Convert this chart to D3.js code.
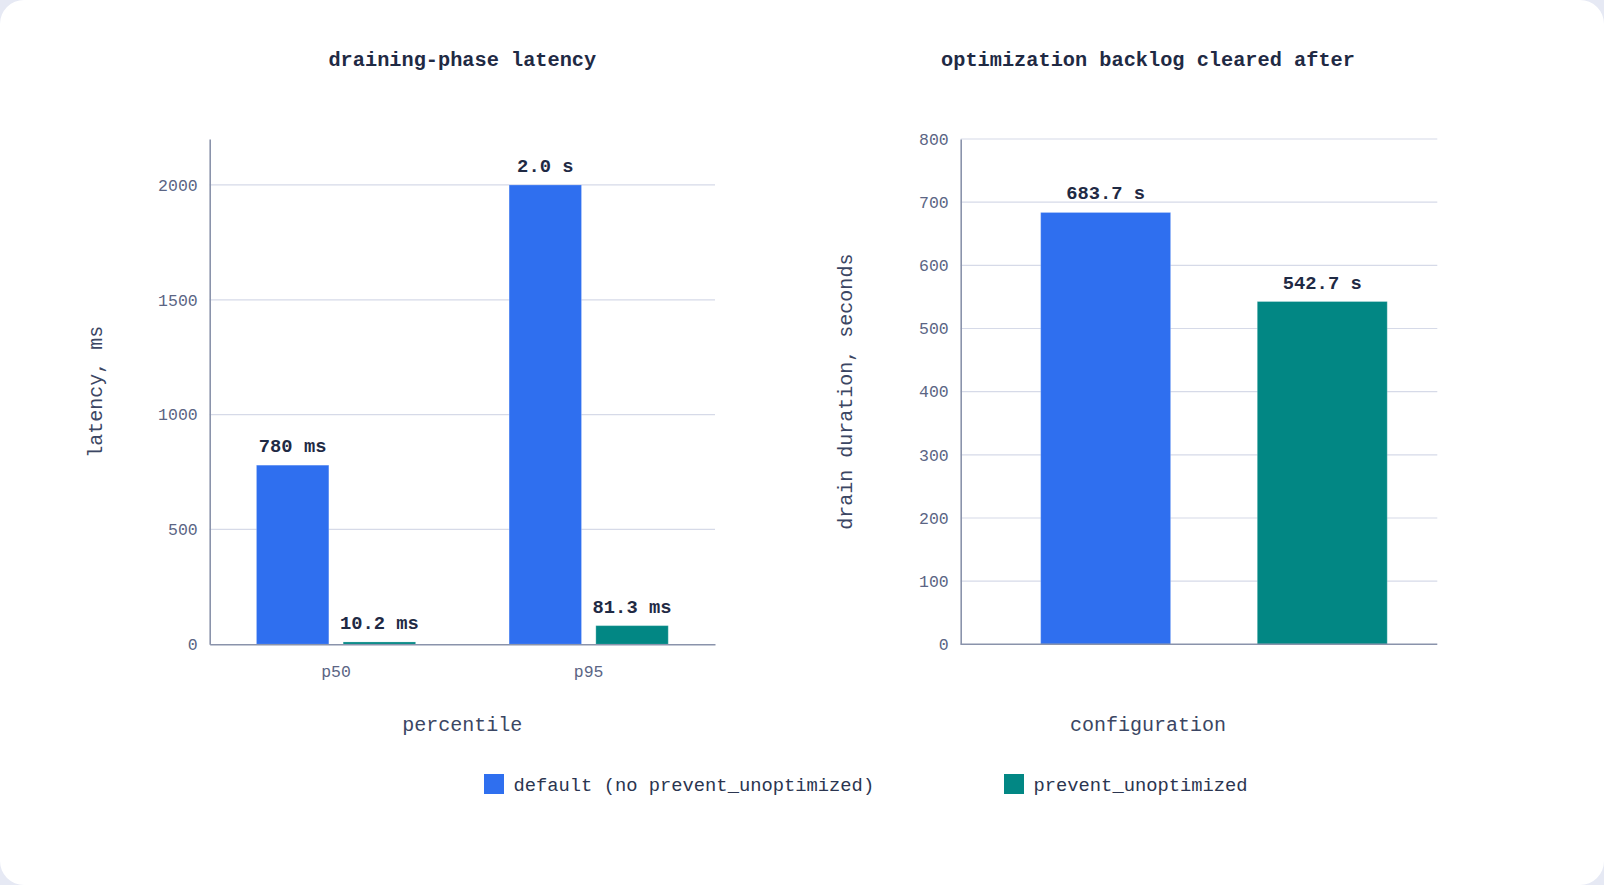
<!DOCTYPE html>
<html>
<head>
<meta charset="utf-8">
<script src="https://cdn.jsdelivr.net/npm/d3@7"></script>
<style>
  html, body { margin: 0; padding: 0; background: #e6e9f4; }
  svg { display: block; }
  text { font-family: "Liberation Mono", "DejaVu Sans Mono", monospace; }
</style>
</head>
<body>
<div id="chart"></div>
<script>
// data
var percentiles = ["p50", "p95"];
var seriesNames = ["default (no prevent_unoptimized)", "prevent_unoptimized"];
var latencyDefault = [780, 2000];
var latencyPrevent = [10.2, 81.3];
var latencyDefaultLabels = ["780 ms", "2.0 s"];
var latencyPreventLabels = ["10.2 ms", "81.3 ms"];
var latencyTicks = [0, 500, 1000, 1500, 2000];
var drainSeconds = [683.7, 542.7];
var drainLabels = ["683.7 s", "542.7 s"];
var drainTicks = [0, 100, 200, 300, 400, 500, 600, 700, 800];

var colors = ["#2f6fef", "#028784"];

var svgWidth = 1604;
var svgHeight = 885;

var svg = d3.select("#chart")
  .append("svg")
  .attr("width", svgWidth)
  .attr("height", svgHeight);

// white card
svg.append("rect")
  .attr("x", 0).attr("y", 0)
  .attr("width", svgWidth).attr("height", svgHeight)
  .attr("rx", 24).attr("ry", 24)
  .attr("fill", "#ffffff");

var plotTop = 139;
var plotBottom = 644.3;

//style helpers for axes
function styleAxis(g) {
  g.select(".domain").attr("stroke", "#8a93ab").attr("stroke-width", 1.6);
  g.selectAll(".tick line").remove();
  g.selectAll(".tick text")
    .attr("fill", "#5b6584")
    .style("font-size", "16.5px")
    .style("font-family", "'Liberation Mono', monospace");
}

function drawGrid(yScale, ticks, x0, x1) {
  svg.append("g")
    .selectAll("line")
    .data(ticks.filter(function(t) { return t > 0; }))
    .enter()
    .append("line")
    .attr("x1", x0).attr("x2", x1)
    .attr("y1", function(d) { return yScale(d); })
    .attr("y2", function(d) { return yScale(d); })
    .attr("stroke", "#d6dae8")
    .attr("stroke-width", 1.2);
}

function addTitle(text, x) {
  svg.append("text")
    .attr("x", x).attr("y", 66)
    .attr("text-anchor", "middle")
    .attr("fill", "#1f2a44")
    .style("font-size", "20.3px")
    .style("font-weight", "bold")
    .text(text);
}

function addXLabel(text, x) {
  svg.append("text")
    .attr("x", x).attr("y", 731)
    .attr("text-anchor", "middle")
    .attr("fill", "#3b4663")
    .style("font-size", "20px")
    .text(text);
}

function addYLabel(text, x) {
  svg.append("text")
    .attr("transform", "translate(" + x + "," + ((plotTop + plotBottom) / 2) + ") rotate(-90)")
    .attr("text-anchor", "middle")
    .attr("fill", "#3b4663")
    .style("font-size", "20px")
    .text(text);
}

function barLabel(x, y, text) {
  svg.append("text")
    .attr("x", x).attr("y", y - 13)
    .attr("text-anchor", "middle")
    .attr("fill", "#1f2a44")
    .style("font-size", "18.8px")
    .style("font-weight", "bold")
    .text(text);
}

// ---------------- left chart: draining-phase latency
var leftX0 = 209.7, leftX1 = 715;

var yLeft = d3.scaleLinear().domain([0, 2200]).range([plotBottom, plotTop]);
var xGroup = d3.scaleBand()
  .domain(percentiles)
  .range([leftX0, leftX1])
  .paddingInner(0.37)
  .paddingOuter(0.185);
var xSub = d3.scaleBand()
  .domain(seriesNames)
  .range([0, xGroup.bandwidth()])
  .paddingInner(0.165);

drawGrid(yLeft, latencyTicks, leftX0, leftX1);

var latencyRows = percentiles.map(function(p, i) {
  return [
    { group: p, series: seriesNames[0], value: latencyDefault[i], label: latencyDefaultLabels[i] },
    { group: p, series: seriesNames[1], value: latencyPrevent[i], label: latencyPreventLabels[i] }
  ];
});

latencyRows.forEach(function(row) {
  row.forEach(function(d, j) {
    var bx = xGroup(d.group) + xSub(d.series);
    svg.append("rect")
      .attr("x", bx)
      .attr("y", yLeft(d.value))
      .attr("width", xSub.bandwidth())
      .attr("height", plotBottom - yLeft(d.value))
      .attr("fill", colors[j])
      .attr("stroke", "rgba(255,255,255,0.25)")
      .attr("stroke-width", 1);
    barLabel(bx + xSub.bandwidth() / 2, yLeft(d.value), d.label);
  });
});

var leftYAxis = svg.append("g")
  .attr("transform", "translate(" + leftX0 + ",0)")
  .call(d3.axisLeft(yLeft).tickValues(latencyTicks).tickFormat(d3.format("d"))
    .tickSize(0).tickPadding(12).tickSizeOuter(0))
  .call(styleAxis);

var leftXAxis = svg.append("g")
  .attr("transform", "translate(0," + plotBottom + ")")
  .call(d3.axisBottom(xGroup).tickSize(0).tickPadding(21).tickSizeOuter(0))
  .call(styleAxis);

addTitle("draining-phase latency", (leftX0 + leftX1) / 2);
addXLabel("percentile", (leftX0 + leftX1) / 2);
addYLabel("latency, ms", 101.5);

// ---------------- right chart: backlog cleared after
var rightX0 = 960.7, rightX1 = 1437.3;

var yRight = d3.scaleLinear().domain([0, 800]).range([plotBottom, plotTop]);
var xConfig = d3.scaleBand()
  .domain(seriesNames)
  .range([986.5, 1441.4])
  .paddingInner(0.4)
  .paddingOuter(0.25);

drawGrid(yRight, drainTicks, rightX0, rightX1);

seriesNames.forEach(function(s, i) {
  svg.append("rect")
    .attr("x", xConfig(s))
    .attr("y", yRight(drainSeconds[i]))
    .attr("width", xConfig.bandwidth())
    .attr("height", plotBottom - yRight(drainSeconds[i]))
    .attr("fill", colors[i])
    .attr("stroke", "rgba(255,255,255,0.25)")
    .attr("stroke-width", 1);
  barLabel(xConfig(s) + xConfig.bandwidth() / 2, yRight(drainSeconds[i]), drainLabels[i]);
});

svg.append("g")
  .attr("transform", "translate(" + rightX0 + ",0)")
  .call(d3.axisLeft(yRight).tickValues(drainTicks).tickFormat(d3.format("d"))
    .tickSize(0).tickPadding(12).tickSizeOuter(0))
  .call(styleAxis);

// x axis line only, no category labels
svg.append("line")
  .attr("x1", rightX0).attr("x2", rightX1)
  .attr("y1", plotBottom).attr("y2", plotBottom)
  .attr("stroke", "#8a93ab").attr("stroke-width", 1.6);

addTitle("optimization backlog cleared after", 1148);
addXLabel("configuration", 1148);
addYLabel("drain duration, seconds", 852);

// ---------------- legend
var legendX = [484, 1004];
var legend = svg.append("g")
  .selectAll("g")
  .data(seriesNames)
  .enter()
  .append("g")
  .attr("transform", function(d, i) { return "translate(" + legendX[i] + ",774)"; });

legend.append("rect")
  .attr("width", 20).attr("height", 20)
  .attr("fill", function(d, i) { return colors[i]; });

legend.append("text")
  .attr("x", 29.5).attr("y", 16.5)
  .attr("fill", "#2b3550")
  .style("font-size", "18.8px")
  .text(function(d) { return d; });
</script>
</body>
</html>
